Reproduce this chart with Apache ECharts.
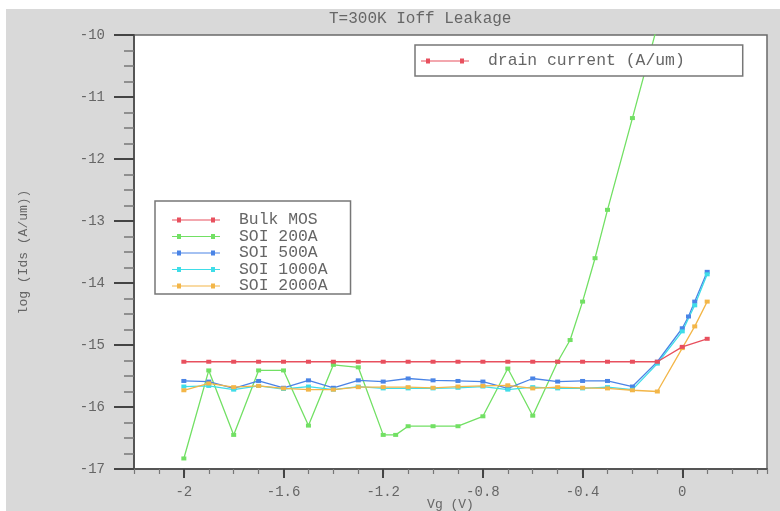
<!DOCTYPE html>
<html>
<head>
<meta charset="utf-8">
<script src="https://cdn.jsdelivr.net/npm/echarts@6/dist/echarts.min.js"></script>
<style>
html,body{margin:0;padding:0;background:#ffffff;width:780px;height:511px;overflow:hidden;}
#chart{position:absolute;left:6px;top:9px;width:774px;height:502px;}
</style>
</head>
<body>
<div id="chart"></div>
<script>
// ---- data ----
const titleText = 'T=300K Ioff Leakage';
const xName = 'Vg (V)';
const yName = 'log (Ids (A/um))';
const xTickLabels = [-2, -1.6, -1.2, -0.8, -0.4, 0];
const yTickLabels = [-17, -16, -15, -14, -13, -12, -11, -10];
const seriesNames = ['Bulk MOS', 'SOI 200A', 'SOI 500A', 'SOI 1000A', 'SOI 2000A'];
const topLegendName = 'drain current (A/um)';

const xFlat = [-2, -1.9, -1.8, -1.7, -1.6, -1.5, -1.4, -1.3, -1.2, -1.1, -1.0, -0.9, -0.8, -0.7, -0.6, -0.5, -0.4, -0.3, -0.2, -0.1];

const bulkX = xFlat.concat([0, 0.1]);
const bulkY = [-15.27, -15.27, -15.27, -15.27, -15.27, -15.27, -15.27, -15.27, -15.27, -15.27,
               -15.27, -15.27, -15.27, -15.27, -15.27, -15.27, -15.27, -15.27, -15.27, -15.27,
               -15.03, -14.90];

const soi200X = [-2, -1.9, -1.8, -1.7, -1.6, -1.5, -1.4, -1.3, -1.2, -1.15, -1.1, -1.0, -0.9, -0.8, -0.7, -0.6, -0.5, -0.45, -0.4, -0.35, -0.3, -0.2, -0.1];
const soi200Y = [-16.83, -15.41, -16.45, -15.41, -15.41, -16.30, -15.32, -15.36, -16.45, -16.45, -16.31, -16.31, -16.31, -16.15, -15.38, -16.14, -15.27, -14.92, -14.30, -13.60, -12.82, -11.34, -9.85];

const soi500X = xFlat.concat([0, 0.025, 0.05, 0.1]);
const soi500Y = [-15.58, -15.59, -15.70, -15.58, -15.69, -15.57, -15.69, -15.57, -15.59, -15.54,
                 -15.57, -15.58, -15.59, -15.70, -15.54, -15.59, -15.58, -15.58, -15.67, -15.27,
                 -14.73, -14.54, -14.30, -13.82];

const soi1000X = xFlat.concat([0, 0.05, 0.1]);
const soi1000Y = [-15.67, -15.66, -15.72, -15.66, -15.71, -15.67, -15.72, -15.67, -15.70, -15.70,
                  -15.70, -15.69, -15.67, -15.72, -15.68, -15.70, -15.70, -15.68, -15.72, -15.30,
                  -14.78, -14.36, -13.86];

const soi2000X = xFlat.concat([0, 0.05, 0.1]);
const soi2000Y = [-15.73, -15.62, -15.68, -15.66, -15.70, -15.72, -15.72, -15.68, -15.68, -15.68,
                  -15.69, -15.67, -15.66, -15.65, -15.70, -15.68, -15.69, -15.70, -15.73, -15.75,
                  -15.05, -14.70, -14.30];

// ---- chart ----
const colors = ['#e8505e', '#72e064', '#4a84e6', '#3fdde8', '#f3b648'];
const FONT = '"Liberation Mono", "DejaVu Sans Mono", monospace';
const TXT = '#666666';

function zip(xs, ys) { return xs.map((x, i) => [x, ys[i]]); }
const seriesData = [zip(bulkX, bulkY), zip(soi200X, soi200Y), zip(soi500X, soi500Y), zip(soi1000X, soi1000Y), zip(soi2000X, soi2000Y)];

const iconPath = 'path://M0,2L48,2L48,3L0,3Z M5,0L9,0L9,5L5,5Z M39,0L43,0L43,5L39,5Z';

const series = seriesNames.map((n, i) => ({
  name: n,
  type: 'line',
  xAxisIndex: 0,
  yAxisIndex: 0,
  data: seriesData[i],
  symbol: 'rect',
  symbolSize: [5, 4],
  showSymbol: true,
  lineStyle: { width: 1.3, color: colors[i] },
  itemStyle: { color: colors[i] },
  clip: true,
  animation: false,
  z: i === 0 ? 5 : 3
}));
series.push({
  name: topLegendName,
  type: 'line',
  data: [],
  itemStyle: { color: colors[0] },
  lineStyle: { color: colors[0] },
  animation: false
});

const chart = echarts.init(document.getElementById('chart'), null, { renderer: 'canvas' });
chart.setOption({
  backgroundColor: '#d9d9d9',
  animation: false,
  title: {
    text: titleText,
    left: 323,
    top: 2,
    padding: 0,
    textStyle: { fontFamily: FONT, fontSize: 16, fontWeight: 'normal', color: TXT }
  },
  grid: {
    left: 128, top: 26, width: 633, height: 434,
    show: true, backgroundColor: '#ffffff', borderColor: '#6a6a6a', borderWidth: 1.5,
    containLabel: false,
    outerBoundsMode: 'none'
  },
  legend: [
    {
      data: [topLegendName],
      left: 409, top: 36,
      orient: 'horizontal',
      icon: iconPath,
      itemWidth: 48, itemHeight: 5,
      padding: [8, 58, 7, 6],
      backgroundColor: '#ffffff',
      borderColor: '#777777', borderWidth: 1.5,
      selectedMode: false,
      textStyle: { fontFamily: FONT, fontSize: 16.4, color: TXT, padding: [0, 0, 0, 14] }
    },
    {
      data: seriesNames,
      left: 149, top: 192,
      orient: 'vertical',
      icon: iconPath,
      itemWidth: 48, itemHeight: 5,
      itemGap: 0.5,
      padding: [11, 23, 0, 17],
      backgroundColor: '#ffffff',
      borderColor: '#777777', borderWidth: 1.5,
      selectedMode: false,
      textStyle: { fontFamily: FONT, fontSize: 16.4, lineHeight: 16, color: TXT, padding: [0, 0, 0, 14] }
    }
  ],
  xAxis: [
    {
      type: 'value', min: -2.2, max: 0.34, interval: 0.1, position: 'bottom',
      axisLine: { show: true, onZero: false, lineStyle: { color: '#555555', width: 2 } },
      axisTick: { show: true, length: 5, lineStyle: { color: '#777777', width: 1.2 } },
      axisLabel: { show: false },
      splitLine: { show: false },
      name: xName, nameLocation: 'middle', nameGap: 29,
      nameTextStyle: { fontFamily: FONT, fontSize: 13, color: TXT }
    },
    {
      type: 'value', min: -2.2, max: 0.34, position: 'bottom', offset: 0,
      axisLine: { show: false, onZero: false },
      axisTick: { show: true, length: 9, customValues: xTickLabels, lineStyle: { color: '#444444', width: 2 } },
      axisLabel: { show: true, customValues: xTickLabels, margin: 16, fontFamily: FONT, fontSize: 14, color: TXT,
                   formatter: v => String(Math.round(v * 10) / 10) },
      splitLine: { show: false }
    }
  ],
  yAxis: [
    {
      type: 'value', min: -17, max: -10, interval: 1,
      axisLine: { show: true, onZero: false, lineStyle: { color: '#555555', width: 2 } },
      axisTick: { show: true, length: 20, lineStyle: { color: '#444444', width: 2 } },
      minorTick: { show: true, splitNumber: 4, length: 10, lineStyle: { color: '#777777', width: 1.5 } },
      axisLabel: { show: true, margin: 29, fontFamily: FONT, fontSize: 14, color: TXT,
                   customValues: yTickLabels },
      splitLine: { show: false },
      minorSplitLine: { show: false },
      name: yName, nameLocation: 'middle', nameGap: 104, nameRotate: 90,
      nameTextStyle: { fontFamily: FONT, fontSize: 13, color: TXT }
    }
  ],
  series: series
});
</script>
</body>
</html>
